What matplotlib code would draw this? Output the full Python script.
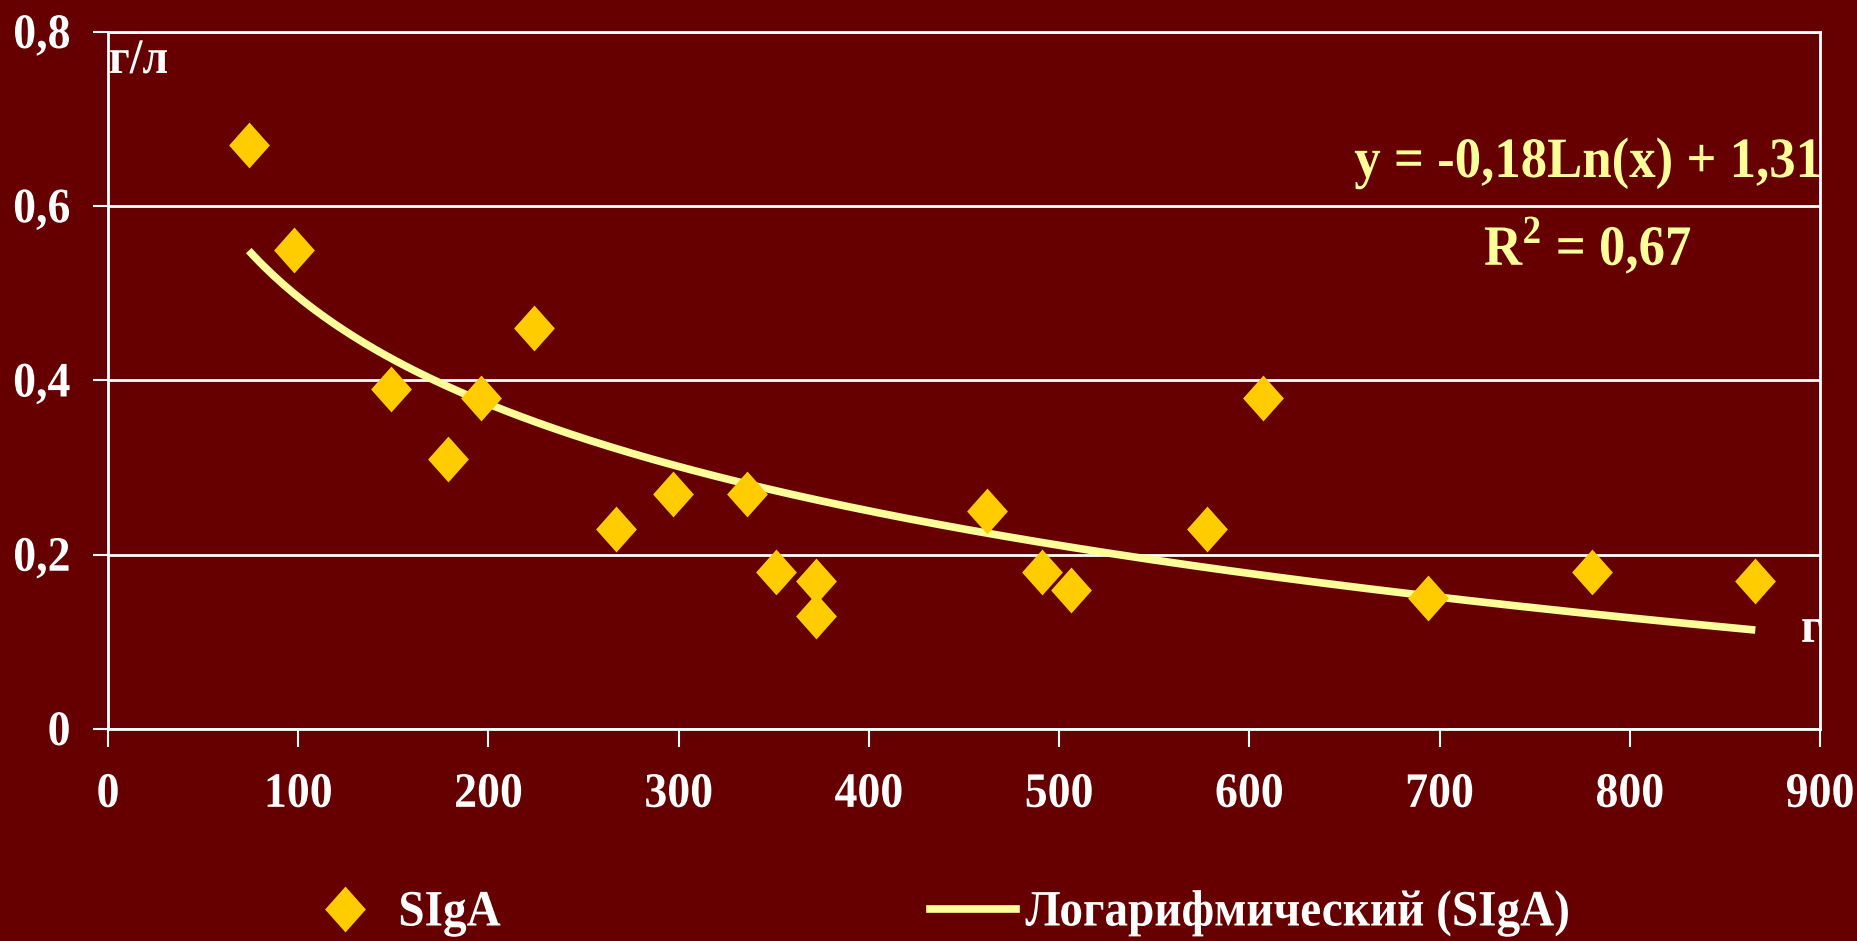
import numpy as np
import matplotlib
matplotlib.use("Agg")
import matplotlib.pyplot as plt
import matplotlib.text as mtext
from matplotlib import patheffects
from matplotlib.transforms import Affine2D
from matplotlib.lines import Line2D
from matplotlib.path import Path

# ---- data ----
x_vals = [74, 98, 149, 179, 196, 224, 267, 297, 336, 351, 372, 372,
          462, 491, 506, 578, 607, 694, 780, 866]
y_vals = [0.67, 0.55, 0.39, 0.31, 0.38, 0.46, 0.23, 0.27, 0.27, 0.18, 0.17, 0.13,
          0.25, 0.18, 0.16, 0.23, 0.38, 0.15, 0.18, 0.17]
series_name = "SIgA"
trend_name = "Логарифмический (SIgA)"
x_ticks = [0, 100, 200, 300, 400, 500, 600, 700, 800, 900]
y_ticks = [0, 0.2, 0.4, 0.6, 0.8]
y_tick_labels = ["0", "0,2", "0,4", "0,6", "0,8"]
eq_text = "y = -0,18Ln(x) + 1,31"
r2_text = "R$^{\\mathbf{2}}$ = 0,67"

BG = "#660000"
DIAMOND = "#FFCC00"
TREND = "#FFFF99"
FONT = "Liberation Serif"

plt.rcParams['font.family'] = [FONT, 'DejaVu Serif']
plt.rcParams['font.weight'] = 'bold'
plt.rcParams['mathtext.fontset'] = 'custom'
plt.rcParams['mathtext.rm'] = FONT
plt.rcParams['mathtext.bf'] = FONT + ':bold'


class VStretch(patheffects.AbstractPathEffect):
    """Stretch text glyphs vertically about their origin (condensed look)."""
    def __init__(self, s):
        super().__init__()
        self.s = s

    def draw_path(self, renderer, gc, tpath, affine, rgbFace=None):
        ox, oy = affine.transform((0, 0))
        new = affine + Affine2D().translate(-ox, -oy).scale(1, self.s).translate(ox, oy)
        renderer.draw_path(gc, tpath, new, rgbFace)


fig = plt.figure(figsize=(18.58, 9.41), dpi=100, facecolor=BG)
ax = fig.add_axes([108/1858, 1-729/941, (1820-108)/1858, (729-32)/941])
ax.set_facecolor(BG)

diamond = Path([(0, 1), (0.89, 0), (0, -1), (-0.89, 0), (0, 1)],
               [Path.MOVETO, Path.LINETO, Path.LINETO, Path.LINETO, Path.CLOSEPOLY])
MS = 33

xs = np.array(x_vals, dtype=float)
ys = np.array(y_vals, dtype=float)
b, a = np.polyfit(np.log(xs), ys, 1)
xt = np.linspace(xs.min(), xs.max(), 300)
yt = a + b*np.log(xt)

ax.plot(xt, yt, color=TREND, lw=5.5, zorder=3, solid_capstyle='butt')
ax.plot(xs, ys, linestyle='none', marker=diamond, markersize=MS,
        color=DIAMOND, markeredgewidth=0, zorder=4)

ax.set_xlim(0, 900)
ax.set_ylim(0, 0.8)
ax.set_xticks(x_ticks)
ax.set_xticklabels([str(t) for t in x_ticks])
ax.set_yticks(y_ticks)
ax.set_yticklabels(y_tick_labels)
ax.grid(axis='y', color='white', lw=2)
ax.set_axisbelow(True)
for s in ax.spines.values():
    s.set_color('white')
    s.set_linewidth(2)
ax.tick_params(axis='x', direction='out', length=13, width=1.5, colors='white',
               labelsize=33, pad=20)
ax.tick_params(axis='y', direction='out', length=11, width=1.5, colors='white',
               labelsize=33, pad=16)
for lab in ax.get_xticklabels() + ax.get_yticklabels():
    lab.set_fontweight('bold')
    lab.set_color('white')

# axis unit labels
ax.text(0.5, 0.753, "г/л", color='white', fontsize=33, fontweight='bold',
        ha='left', va='baseline')
ax.text(890, 0.1, "г", color='white', fontsize=33, fontweight='bold',
        ha='left', va='baseline')

# equation
ax.text(1588/1858, 1-177/941, eq_text, transform=fig.transFigure, color=TREND,
        fontsize=38, fontweight='bold', ha='center', va='baseline')
ax.text(1588/1858, 1-265/941, r2_text, transform=fig.transFigure, color=TREND,
        fontsize=38, fontweight='bold', ha='center', va='baseline')

# legends
fs = 34
h1 = Line2D([], [], linestyle='none', marker=diamond, markersize=MS,
            color=DIAMOND, markeredgewidth=0)
h2 = Line2D([], [], color=TREND, lw=5.5)
leg1 = fig.legend([h1], [series_name], loc='center left',
                  bbox_to_anchor=(311/1858, 1-914/941), frameon=False,
                  borderpad=0, borderaxespad=0, handlelength=1.45,
                  handletextpad=0.4, prop={'family': FONT, 'weight': 'bold', 'size': fs})
leg2 = fig.legend([h2], [trend_name], loc='center left',
                  bbox_to_anchor=(930/1858, 1-914/941), frameon=False,
                  borderpad=0, borderaxespad=0, handlelength=1.82,
                  handletextpad=0.2, prop={'family': FONT, 'weight': 'bold', 'size': fs})
for lg in (leg1, leg2):
    for t in lg.get_texts():
        t.set_color('white')

for t in fig.findobj(mtext.Text):
    t.set_path_effects([VStretch(1.08)])

fig.savefig("out.png", dpi=100, facecolor=BG)
